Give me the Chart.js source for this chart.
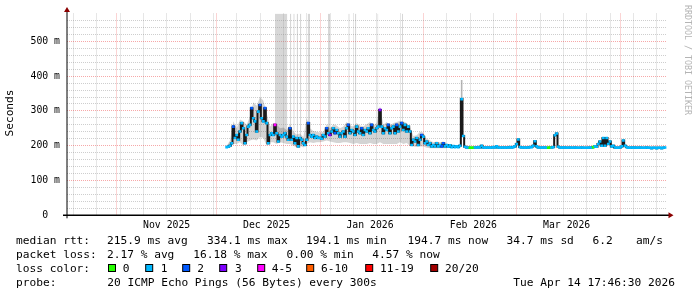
<!DOCTYPE html>
<html><head><meta charset="utf-8">
<script src="https://cdn.jsdelivr.net/npm/chart.js@4/dist/chart.umd.min.js"></script>
<style>html,body{margin:0;padding:0;background:#fff;}#wrap{width:697px;height:297px;position:relative;}canvas{display:block;}</style>
</head><body><div id="wrap"><canvas id="c" width="697" height="297"></canvas></div>
<script>
// ---- DATA (x values are days after 2025-11-01 00:00) ----
const firstDay = 33, dayStep = 0.5;
const medianRtt = [
 196,197,200,207,255,222,231,217,241,265,
 250,207,231,255,260,308,279,270,241,298,
 317,279,270,308,265,207,231,236,231,260,
 236,212,231,226,231,236,226,217,250,217,
 226,207,222,198,222,217,207,202,217,265,
 231,226,231,222,226,222,223,220,231,226,
 250,236,231,241,250,236,245,
 236,226,236,241,226,250,260,236,245,241,
 231,255,241,236,250,231,245,241,250,236,
 260,245,241,250,255,303,255,236,250,245,
 260,236,250,255,236,260,241,255,265,245,
 260,241,255,241,202,217,212,222,202,217,
 231,226,207,212,202,207,198,202,198,207,
 198,202,198,207,198,202,
 197,201,196,199,196,198,196,200,334,228,
 197,195,195,194,194,194,195,195,196,195,
 200,195,194,195,195,194,195,196,195,198,
 195,194,195,195,194,195,195,196,195,196,
 198,205,218,196,195,195,194,195,195,196,
 196,200,213,198,195,195,194,195,195,194,
 194,195,195,196,230,235,197,195,194,195,
 195,194,194,195,194,194,195,194,194,194,
 195,194,194,194,194,195,194,196,198,197,
 205,212,200,222,200,222,205,212,198,200,
 195,194,194,195,198,215,200,196,194,194,
 195,194,195,194,194,195,194,194,194,195,
 194,194,193,194,194,193,194,194,193,194,
 195
];
// loss class per sample: default class 1, exceptions listed
const lossDefaultClass = 1;
const lossExceptionDays  = [35,40.5,43,44.5,52,57.5,63,65.5,69.5,73.5,76.5,81.5,84,85.5,91.5,97.5,98, 64,79, 47.5, 106,106.5,107,129.5,130,143];
const lossExceptionClass = [2,2,2,2,2,2,2,2,2,2,2,2,2,2,2,2,2, 3,3, 4, 0,0,0,0,0,0];
const lossLabels = ['0','1','2','3','4-5','6-10','11-19','20/20'];
const lossColors = ['#26ff00','#00b8ff','#0059ff','#7e00ff','#ff00ff','#ff5e00','#ff0000','#a00000'];
// smoke (ping spread) per day, d33..d99
const smokeFirstDay = 33;
const smokeHi = [200,215,270,250,275,270,260,285,325,315, 340,330,295,255,265,262,250,252,245,262, 240,232,235,225,280,250,242,240,238,240, 262,250,262,258,250,255,268,258,255,265, 258,256,262,268,258,265,315,260,268,258, 265,268,272,270,265,255,228,230,240,238, 220,215,210,212,210,212,208];
const smokeLo = [192,196,205,205,210,200,210,215,218,215, 225,222,200,210,210,205,210,208,205,205, 200,195,200,195,205,210,208,210,210,212, 215,212,210,208,208,210,210,208,205,208, 205,205,205,208,205,205,210,205,205,205, 205,205,210,205,208,200,198,196,198,198, 194,193,193,193,193,193,193];
// tall smoke bars (pings far above the scale)
const barFrom = [47.5,52.0,53.0,54.0,55.0,57.3,63.4,69.5,71.5,78.2,85.6];
const barTo   = [51.2,52.4,53.4,54.4,55.4,58.0,64.0,69.9,71.9,78.5,85.9];
const barLow  = [230,230,225,225,220,240,240,245,245,250,255];
const spikeDay = 103.5, spikeLow = 334, spikeHigh = 389;
// axes
const yMin = 0, yMax = 580;
const xMin = -14.9, xMax = 165.1;
const monthStartDays = [0,30,61,92,120,151];
const monthLabelDays = [15,45,76,107,135];
const monthLabels = ['Nov 2025','Dec 2025','Jan 2026','Feb 2026','Mar 2026'];
const firstWeekDay = -13;

// ---- BUILD ----
const medianPts = medianRtt.map((v,i)=>({x:firstDay+i*dayStep,y:v}));
const pointColors = medianPts.map(p=>{
  const k = lossExceptionDays.indexOf(p.x);
  return lossColors[k>=0?lossExceptionClass[k]:lossDefaultClass];
});
const smokeHiPts = smokeHi.map((v,i)=>({x:smokeFirstDay+i,y:v}));
const smokeLoPts = smokeLo.map((v,i)=>({x:smokeFirstDay+i,y:v}));
const barPts = [];
barFrom.forEach((f,i)=>{barPts.push({x:f,y:barLow[i]},{x:barTo[i],y:barLow[i]},{x:barTo[i],y:null});});
const weekDays = [];
for(let d=firstWeekDay; d<=xMax; d+=7) weekDays.push(d);
const xTickVals = Array.from(new Set([...weekDays,...monthStartDays,...monthLabelDays])).sort((a,b)=>a-b);
const yTickVals = [];
for(let v=0; v<yMax; v+=20) yTickVals.push(v);

const RED='rgba(230,0,0,0.34)', GRAY='rgba(120,120,120,0.36)';
const MONO='"DejaVu Sans Mono"';

const decor = {
  id:'decor',
  afterDraw(chart){
    const ctx=chart.ctx, ca=chart.chartArea;
    ctx.save();
    ctx.strokeStyle='#000';
    ctx.lineWidth=1;
    ctx.beginPath(); ctx.moveTo(ca.left, ca.bottom+3); ctx.lineTo(ca.left, ca.top-2); ctx.stroke();
    ctx.lineWidth=1.4;
    ctx.beginPath(); ctx.moveTo(ca.left-4, ca.bottom); ctx.lineTo(ca.right+2, ca.bottom); ctx.stroke();
    ctx.fillStyle='#8b0000';
    ctx.beginPath(); ctx.moveTo(ca.left-3, ca.top-1.5); ctx.lineTo(ca.left+3, ca.top-1.5); ctx.lineTo(ca.left, ca.top-6.5); ctx.closePath(); ctx.fill();
    ctx.beginPath(); ctx.moveTo(ca.right+1.5, ca.bottom-3); ctx.lineTo(ca.right+1.5, ca.bottom+3); ctx.lineTo(ca.right+6.5, ca.bottom); ctx.closePath(); ctx.fill();
    ctx.fillStyle='#000';
    ctx.font='11.2px '+MONO;
    ctx.textBaseline='middle'; ctx.textAlign='center';
    ctx.save(); ctx.translate(10.5,113); ctx.rotate(-Math.PI/2); ctx.fillText('Seconds',0,0); ctx.restore();
    ctx.save(); ctx.fillStyle='#b4b4b4'; ctx.font='8.3px '+MONO; ctx.textAlign='left';
    ctx.translate(687.5,5); ctx.rotate(Math.PI/2); ctx.fillText('RRDTOOL / TOBI OETIKER',0,0); ctx.restore();
    ctx.textAlign='left'; ctx.fillStyle='#000'; ctx.font='11.2px '+MONO;
    const rows=[
      [241,[['median rtt:',16],['215.9 ms avg',107],['334.1 ms max',207],['194.1 ms min',306],['194.7 ms now',407.5],['34.7 ms sd',506.5],['6.2',592.5],['am/s',636]]],
      [255.5,[['packet loss:',16],['2.17 % avg',107],['16.18 % max',193.3],['0.00 % min',286.5],['4.57 % now',372.3]]],
      [269.5,[['loss color:',16]]],
      [283.5,[['probe:',16],['20 ICMP Echo Pings (56 Bytes) every 300s',107.3],['Tue Apr 14 17:46:30 2026',513.3]]]
    ];
    rows.forEach(([y,items])=>items.forEach(([t,x])=>ctx.fillText(t,x,y)));
    const boxX=[108.5,145.7,182.7,219.7,257.7,306.7,365.7,430.7];
    const labX=[122.7,160.7,197.3,235,271.7,321,380,445];
    lossColors.forEach((c,i)=>{
      ctx.fillStyle=c; ctx.fillRect(boxX[i],264.5,7,7);
      ctx.strokeStyle='#000'; ctx.lineWidth=1; ctx.strokeRect(boxX[i],264.5,7,7);
      ctx.fillStyle='#000'; ctx.fillText(lossLabels[i],labX[i],269.5);
    });
    ctx.restore();
  }
};

new Chart(document.getElementById('c'),{
  type:'line',
  data:{datasets:[
    {data:medianPts,borderColor:'#1a1a1a',borderWidth:2,tension:0,stepped:'middle',
     pointStyle:'line',pointRadius:1.4,pointBorderWidth:2.6,pointBorderColor:pointColors,pointBackgroundColor:pointColors,order:0},
    {data:[{x:spikeDay,y:spikeLow},{x:spikeDay,y:spikeHigh}],borderColor:'rgba(150,150,150,0.7)',borderWidth:1.6,pointRadius:0,order:1},
    {data:smokeLoPts,borderWidth:0,borderColor:'rgba(0,0,0,0)',pointRadius:0,fill:false,order:3},
    {data:smokeHiPts,borderWidth:0,borderColor:'rgba(0,0,0,0)',pointRadius:0,fill:'-1',backgroundColor:'rgba(0,0,0,0.17)',order:2},
    {data:barPts,borderWidth:0,borderColor:'rgba(0,0,0,0)',pointRadius:0,spanGaps:false,fill:'end',backgroundColor:'rgba(150,150,150,0.38)',order:4}
  ]},
  options:{
    responsive:false,animation:false,events:[],
    layout:{padding:{left:0,right:30,top:13.5,bottom:0}},
    plugins:{legend:{display:false},tooltip:{enabled:false}},
    scales:{
      x:{type:'linear',min:xMin,max:xMax,
        afterBuildTicks:s=>{s.ticks=xTickVals.map(v=>({value:v}));},
        afterFit:s=>{s.height=297-215.3;},
        grid:{drawTicks:false,lineWidth:1,
          color:c=>{const v=c.tick?c.tick.value:null; if(monthStartDays.includes(v))return RED; if(weekDays.includes(v))return GRAY; return 'rgba(0,0,0,0)';}},
        border:{display:false,dash:[1,1]},
        ticks:{autoSkip:false,maxRotation:0,padding:4,color:'#000',font:{family:'DejaVu Sans Mono',size:9.8},
          callback:v=>{const k=monthLabelDays.indexOf(v); return k>=0?monthLabels[k]:'';}}
      },
      y:{type:'linear',min:yMin,max:yMax,
        afterBuildTicks:s=>{s.ticks=yTickVals.map(v=>({value:v}));},
        afterFit:s=>{s.width=67;},
        grid:{drawTicks:false,lineWidth:1,color:c=>{const v=c.tick?c.tick.value:null; return (v%100===0)?RED:GRAY;}},
        border:{display:false,dash:[1,1]},
        ticks:{autoSkip:false,padding:7,color:'#000',font:{family:'DejaVu Sans Mono',size:9.8},
          callback:v=>v%100===0?(v===0?'0  ':(v/100)+'00 m'):''}
      }
    }
  },
  plugins:[decor]
});
</script></body></html>
